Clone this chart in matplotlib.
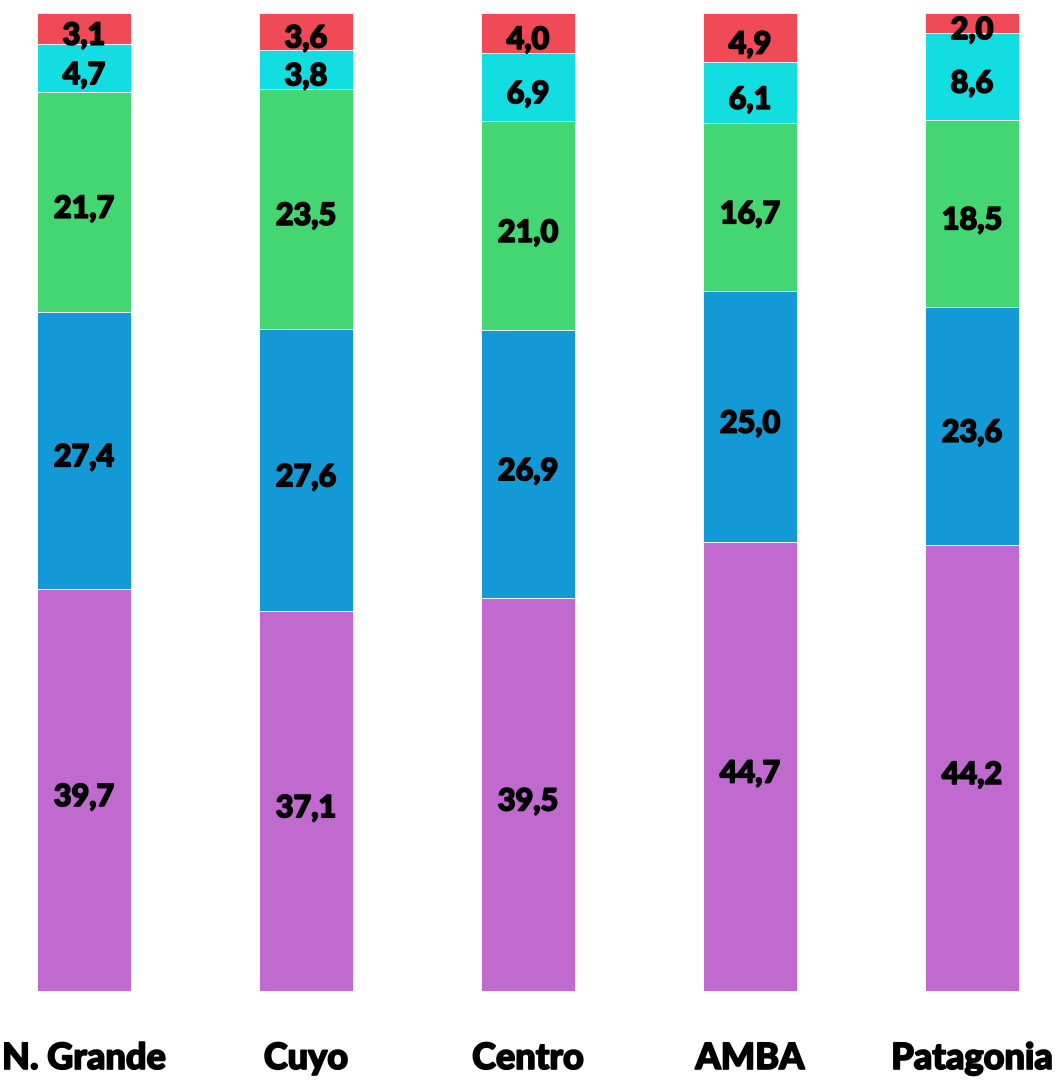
import matplotlib
matplotlib.use("Agg")
import matplotlib.pyplot as plt
import matplotlib.patheffects as pe
import numpy as np

categories = ["N. Grande", "Cuyo", "Centro", "AMBA", "Patagonia"]
s_purple = [39.7, 37.1, 39.5, 44.7, 44.2]
s_blue = [27.4, 27.6, 26.9, 25.0, 23.6]
s_green = [21.7, 23.5, 21.0, 16.7, 18.5]
s_cyan = [4.7, 3.8, 6.9, 6.1, 8.6]
s_red = [3.1, 3.6, 4.0, 4.9, 2.0]

series = [s_purple, s_blue, s_green, s_cyan, s_red]
colors = ["#C06ACF", "#1399D5", "#43D672", "#12DDE0", "#EF4A56"]

plt.rcParams['font.family'] = ['Lato', 'DejaVu Sans']
heavy = [pe.withStroke(linewidth=1.2, foreground='black')]

fig = plt.figure(figsize=(10.61, 10.8), dpi=100)
ax = fig.add_axes([0, 89/1080, 1, (991-13)/1080])

data = np.array(series, dtype=float)
totals = data.sum(axis=0)
norm = data / totals
x = np.arange(len(categories))
bottom = np.zeros(len(categories))
for vals, nv, c in zip(series, norm, colors):
    ax.bar(x, nv, bottom=bottom, width=94/222, color=c, edgecolor='white', linewidth=0.6)
    for xi, b, h, v in zip(x, bottom, nv, vals):
        ax.annotate(f"{v:.1f}".replace('.', ','), (xi, b + h/2), xytext=(0, -11.5),
                    textcoords='offset points', ha='center', va='baseline',
                    fontsize=22, fontweight='black', color='black', path_effects=heavy)
    bottom += nv

ax.set_xlim(-84/222, (1061-84)/222)
ax.set_ylim(0, 1)
ax.axis('off')
for xi, cat in zip(x, categories):
    ax.text(xi, -0.069, cat, ha='center', va='center', fontsize=26, fontweight='black',
            path_effects=heavy)

fig.savefig("out.png", dpi=100)
